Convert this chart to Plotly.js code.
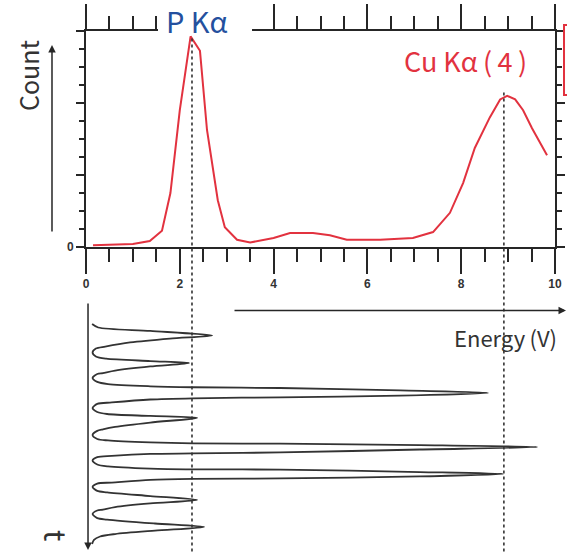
<!DOCTYPE html>
<html>
<head>
<meta charset="utf-8">
<script src="https://cdn.plot.ly/plotly-3.0.1.min.js"></script>
<style>
  html, body { margin: 0; padding: 0; background: #ffffff; }
  #chart { width: 567px; height: 554px; }
</style>
</head>
<body>
<div id="chart"></div>
<script>
// ---- Energy spectrum (energy in keV, counts in arbitrary units) ----
const specEnergy = [0.15, 0.5, 1.0, 1.36, 1.62, 1.8, 2.0, 2.23, 2.43, 2.58, 2.81, 2.96, 3.22, 3.5,
                    4.0, 4.35, 4.84, 5.2, 5.56, 6.27, 6.97, 7.4, 7.76, 8.04, 8.29, 8.61, 8.83,
                    8.98, 9.15, 9.32, 9.51, 9.83];
const specCount  = [0.1, 0.12, 0.17, 0.33, 0.9, 3.0, 7.6, 11.7, 10.9, 6.5, 2.6, 1.1, 0.4, 0.25,
                    0.5, 0.78, 0.78, 0.65, 0.4, 0.4, 0.5, 0.83, 1.9, 3.55, 5.5, 7.2, 8.2,
                    8.4, 8.2, 7.6, 6.6, 5.1];

// ---- Detector pulse train: pulse height (energy) against time (arbitrary units) ----
const pulseEnergy = [
  0.13, 0.26, 1.37, 2.69, 1.79, 0.94, 0.41,
  0.21, 0.14, 0.21, 0.43, 1.37, 2.20, 1.37, 0.62, 0.36,
  0.24, 0.14, 0.24, 0.47, 1.37, 2.28, 4.14, 6.70, 8.57, 6.70, 4.14, 2.28, 1.37, 0.55,
  0.24, 0.14, 0.24, 0.45, 1.37, 2.37, 1.37, 0.62, 0.36,
  0.24, 0.14, 0.24, 0.47, 1.37, 2.28, 4.14, 7.12, 9.62, 7.12, 4.14, 2.28, 1.37, 0.55,
  0.24, 0.14, 0.24, 0.47, 1.37, 2.28, 4.14, 7.12, 8.89, 7.12, 4.14, 2.28, 1.37, 0.55,
  0.24, 0.14, 0.24, 0.45, 1.37, 2.37, 1.37, 0.62, 0.36,
  0.24, 0.14, 0.24, 0.45, 1.47, 2.52, 1.47, 0.62, 0.30,
  0.17, 0.13
];
const pulseTime = [
  8.6, 10.0, 11.4, 13.3, 14.5, 16.1, 17.8,
  18.6, 20.2, 21.8, 22.7, 23.7, 24.5, 25.9, 27.6, 28.6,
  29.0, 30.6, 32.2, 33.1, 34.0, 34.4, 34.7, 35.7, 36.7, 37.8, 38.5, 38.9, 39.4, 40.6,
  41.2, 42.9, 44.5, 45.3, 46.1, 46.9, 48.8, 50.6, 51.6,
  52.2, 53.9, 55.5, 56.1, 56.9, 57.3, 57.4, 58.0, 58.8, 59.8, 61.0, 61.4, 61.6, 62.4,
  62.9, 64.3, 65.9, 66.7, 67.6, 67.9, 68.0, 69.0, 69.8, 70.8, 71.6, 71.8, 72.2, 73.3,
  73.7, 75.1, 76.7, 77.3, 78.8, 80.4, 81.8, 83.3, 84.3,
  84.7, 86.1, 87.8, 88.4, 90.0, 91.4, 92.9, 94.3, 95.3,
  96.7, 98.4
];

// ---- Characteristic lines marked on the spectrum ----
const lineNames  = ['P K\u03b1', 'Cu K\u03b1\u2009(\u20094\u2009)'];
const lineEnergy = [2.26, 8.91];
const lineCount  = [11.7, 8.6];

// ---- Axis settings ----
const energyRange = [0, 10];
const countRange  = [0, 12];
const timeRange   = [100, 0];
const countDomain = [0.5822, 1];
const timeDomain  = [0, 0.4739];

const ink = '#262626';
const red = '#e2323f';
const blue = '#24509e';
const cjk = '"Noto Sans CJK JP", "Noto Sans", sans-serif';

// paper-y position of a count value inside the spectrum panel
function countToPaper(c) {
  return countDomain[0] + (c - countRange[0]) / (countRange[1] - countRange[0]) * (countDomain[1] - countDomain[0]);
}

const traces = [
  {
    x: specEnergy, y: specCount, xaxis: 'x', yaxis: 'y',
    type: 'scatter', mode: 'lines',
    line: { color: red, width: 2 },
    hoverinfo: 'skip'
  },
  {
    x: pulseEnergy, y: pulseTime, xaxis: 'x', yaxis: 'y2',
    type: 'scatter', mode: 'lines',
    line: { color: '#333333', width: 1.8, shape: 'spline', smoothing: 0.8 },
    hoverinfo: 'skip'
  }
];

const shapes = [
  // break in the top frame where the P Kα label sits
  { type: 'rect', xref: 'paper', yref: 'paper', x0: 0.1535, x1: 0.354, y0: 0.9955, y1: 1.08,
    fillcolor: '#ffffff', line: { width: 0 }, layer: 'above' },
  // edge of the neighbouring box at the right border
  { type: 'rect', xref: 'paper', yref: 'paper', x0: 1.0192, x1: 1.2, y0: 0.876, y1: 1.0116,
    fillcolor: 'rgba(0,0,0,0)', line: { color: red, width: 2 }, layer: 'above' }
];
lineEnergy.forEach((e, i) => {
  shapes.push({
    type: 'line', xref: 'x', yref: 'paper',
    x0: e, x1: e, y0: -0.03, y1: countToPaper(lineCount[i]),
    line: { color: '#333333', width: 1.6, dash: 'dot' }, layer: 'above'
  });
});

const annotations = [
  { text: 'Count', xref: 'paper', yref: 'paper', x: -0.1237, y: 0.9149,
    xanchor: 'center', yanchor: 'middle', showarrow: false,
    textangle: -90, font: { family: cjk, size: 25, color: '#333333' } },
  { text: '', xref: 'paper', yref: 'paper', x: -0.0725, y: 0.9729, ax: 0, ay: 188,
    showarrow: true, arrowhead: 2, arrowsize: 1, arrowwidth: 1.5, arrowcolor: ink },
  { text: '', xref: 'paper', yref: 'paper', x: 1.0256, y: 0.4594, ax: -334, ay: 0,
    showarrow: true, arrowhead: 2, arrowsize: 1, arrowwidth: 1.5, arrowcolor: ink },
  { text: '', xref: 'paper', yref: 'paper', x: 0.0043, y: -0.0039, ax: 0, ay: -248,
    showarrow: true, arrowhead: 2, arrowsize: 1, arrowwidth: 1.5, arrowcolor: ink },
  { text: 'Energy\u2009(V)', xref: 'paper', yref: 'paper', x: 0.7804, y: 0.4081,
    xanchor: 'left', yanchor: 'middle', showarrow: false,
    font: { family: cjk, size: 22, color: '#333333' } },
  { text: 't', xref: 'paper', yref: 'paper', x: -0.062, y: 0.0232,
    xanchor: 'center', yanchor: 'middle', showarrow: false,
    textangle: 90, font: { family: cjk, size: 30, color: '#333333' } },
  { text: lineNames[0], xref: 'paper', yref: 'paper', x: 0.236, y: 1.0213,
    xanchor: 'center', yanchor: 'middle', showarrow: false,
    font: { family: cjk, size: 29, color: blue } },
  { text: lineNames[1], xref: 'paper', yref: 'paper', x: 0.8102, y: 0.942,
    xanchor: 'center', yanchor: 'middle', showarrow: false,
    font: { family: cjk, size: 27, color: red } }
];

const layout = {
  width: 567, height: 554,
  margin: { l: 86, r: 12, t: 31, b: 6 },
  paper_bgcolor: '#ffffff', plot_bgcolor: 'rgba(0,0,0,0)',
  showlegend: false,
  font: { family: '"Liberation Sans", Arial, sans-serif', color: '#333333' },
  xaxis: {
    domain: [0, 1], range: energyRange, anchor: 'y', fixedrange: true,
    showgrid: false, zeroline: false,
    showline: true, linecolor: ink, linewidth: 2, mirror: 'ticks',
    ticks: 'outside', tickmode: 'linear', tick0: 0, dtick: 2,
    ticklen: 25, tickwidth: 2, tickcolor: ink,
    minor: { ticks: 'outside', tickmode: 'linear', tick0: 0, dtick: 0.5,
             ticklen: 13, tickwidth: 2, tickcolor: ink, showgrid: false },
    tickfont: { size: 12, weight: 'bold', color: '#333333' }
  },
  yaxis: {
    domain: countDomain, range: countRange, anchor: 'x', fixedrange: true,
    showgrid: false, zeroline: false,
    showline: true, linecolor: ink, linewidth: 2, mirror: 'ticks',
    ticks: 'outside', tickmode: 'array', tickvals: [0, 4, 8, 12], ticktext: ['0', '', '', ''],
    ticklen: 8, tickwidth: 2, tickcolor: ink,
    minor: { ticks: 'outside', tickmode: 'linear', tick0: 0, dtick: 1,
             ticklen: 5, tickwidth: 1.5, tickcolor: ink, showgrid: false },
    tickfont: { size: 12, weight: 'bold', color: '#333333' }
  },
  yaxis2: {
    domain: timeDomain, range: timeRange, anchor: 'x', fixedrange: true,
    visible: false
  },
  shapes: shapes,
  annotations: annotations
};

Plotly.newPlot('chart', traces, layout, { displayModeBar: false, staticPlot: true });
</script>
</body>
</html>
